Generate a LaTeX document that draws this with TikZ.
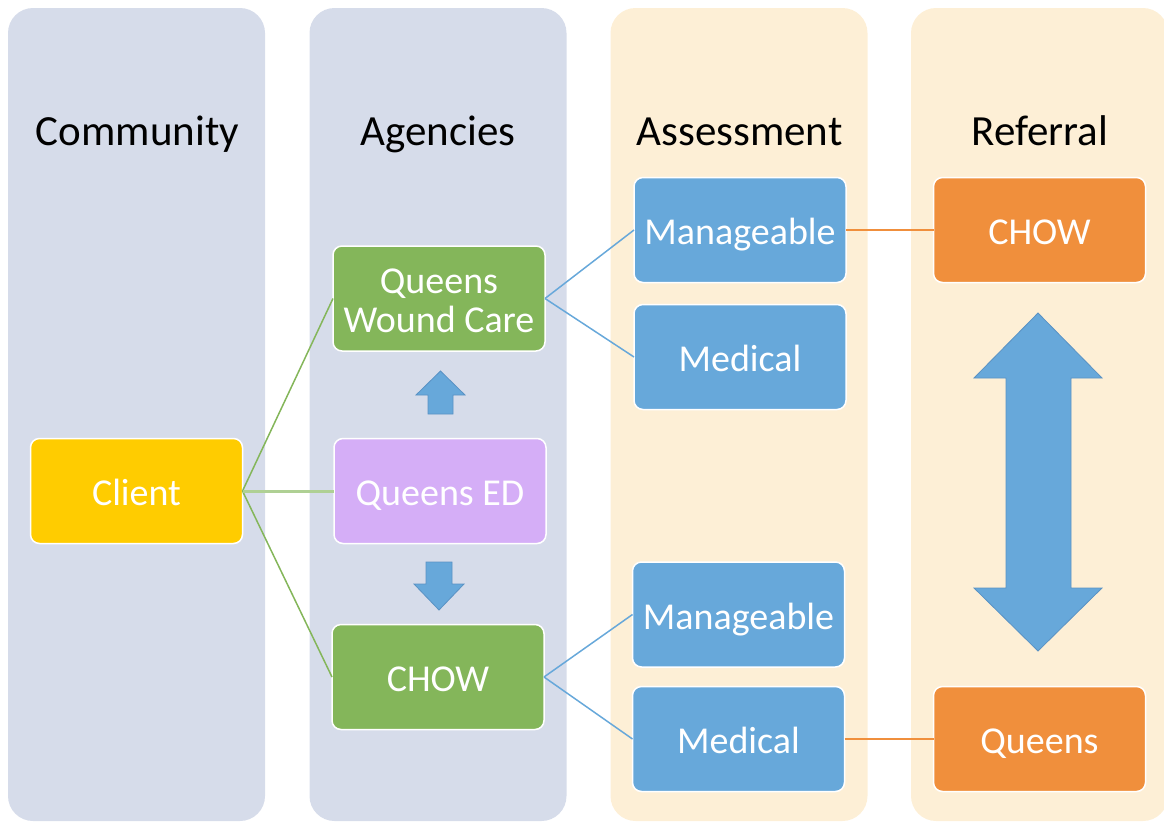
\documentclass[tikz,border=0pt]{standalone}
\usepackage{fontspec}
\setmainfont{Carlito}
\usetikzlibrary{calc}

\definecolor{laneblue}{HTML}{D6DCEA}
\definecolor{lanecream}{HTML}{FDEFD6}
\definecolor{clientyellow}{HTML}{FFCC00}
\definecolor{agencygreen}{HTML}{84B65A}
\definecolor{edpurple}{HTML}{D5AEF7}
\definecolor{assessblue}{HTML}{67A8DA}
\definecolor{referorange}{HTML}{F08F3C}
\definecolor{arrowedge}{HTML}{5A92C4}

\begin{document}
\begin{tikzpicture}[x=1pt,y=-1pt,
	lane/.style={rounded corners=25pt, minimum width=257pt, minimum height=813pt, inner sep=0pt},
	title/.style={font=\fontsize{43}{48}\selectfont, text=black, anchor=base},
	box/.style={rounded corners=9pt, draw=white, line width=1.5pt, minimum width=212pt, minimum height=105pt, inner sep=0pt, outer sep=0pt, text=white, align=center, font=\fontsize{38}{39}\selectfont, text height=32pt, text depth=3pt},
	link/.style={line width=1.5pt},
	blockarrow/.style={fill=assessblue, draw=arrowedge, line width=0.8pt}
	]
				\useasboundingbox (0,0) rectangle (1164,822);
				\clip (0,0) rectangle (1164,822);
				
				\node[lane, fill=laneblue] (community) at (136.5,414.5) {};
				\node[lane, fill=laneblue] (agencies) at (438,414.5) {};
				\node[lane, fill=lanecream] (assessment) at (739,414.5) {};
				\node[lane, fill=lanecream] (referral) at (1039.5,414.5) {};
				
				\node[title] (t1) at (137.5,145) {Community};
				\node[title] (t2) at (438,145) {Agencies};
				\node[title] (t3) at (739.5,145) {Assessment};
				\node[title] (t4) at (1040,145) {Referral};
				
				\node[box, fill=clientyellow] (client) at (136.5,491) {Client};
				
				\node[box, fill=agencygreen, text height=71pt] (qwc) at (439,298.5) {Queens\\Wound Care};
				\node[box, fill=edpurple] (qed) at (440,491) {Queens ED};
				\node[box, fill=agencygreen] (chowa) at (438,677) {CHOW};
				
				\node[box, fill=assessblue] (man1) at (740,230) {Manageable};
				\node[box, fill=assessblue] (med1) at (740,357) {Medical};
				\node[box, fill=assessblue] (man2) at (738.5,614.5) {Manageable};
				\node[box, fill=assessblue] (med2) at (738.5,739) {Medical};
				
				\node[box, fill=referorange] (chowr) at (1039.5,230) {CHOW};
				\node[box, fill=referorange] (queens) at (1039.5,739) {Queens};
				
				\draw[link, agencygreen] (client.east) -- (qwc.west);
				\draw[link, agencygreen] (client.east) -- (chowa.west);
				\draw[line width=3pt, agencygreen!65] (client.east) -- (qed.west);
				
				\draw[link, assessblue] (qwc.east) -- (man1.west);
				\draw[link, assessblue] (qwc.east) -- (med1.west);
				\draw[link, assessblue] (chowa.east) -- (man2.west);
				\draw[link, assessblue] (chowa.east) -- (med2.west);
				
				\draw[link, referorange] (man1.east) -- (chowr.west);
				\draw[link, referorange] (med2.east) -- (queens.west);
				
				\filldraw[blockarrow] (440.5,371) -- (465,395) -- (453,395) -- (453,414) -- (428,414) -- (428,395) -- (416,395) -- cycle;
				\filldraw[blockarrow] (439,610) -- (464,584) -- (452,584) -- (452,562) -- (426,562) -- (426,584) -- (414,584) -- cycle;
				\filldraw[blockarrow] (1038,313) -- (1102,378) -- (1071,378) -- (1071,588) -- (1102,588) -- (1038,651) -- (974,588) -- (1006,588) -- (1006,378) -- (974,378) -- cycle;
			\end{tikzpicture}
\end{document}
